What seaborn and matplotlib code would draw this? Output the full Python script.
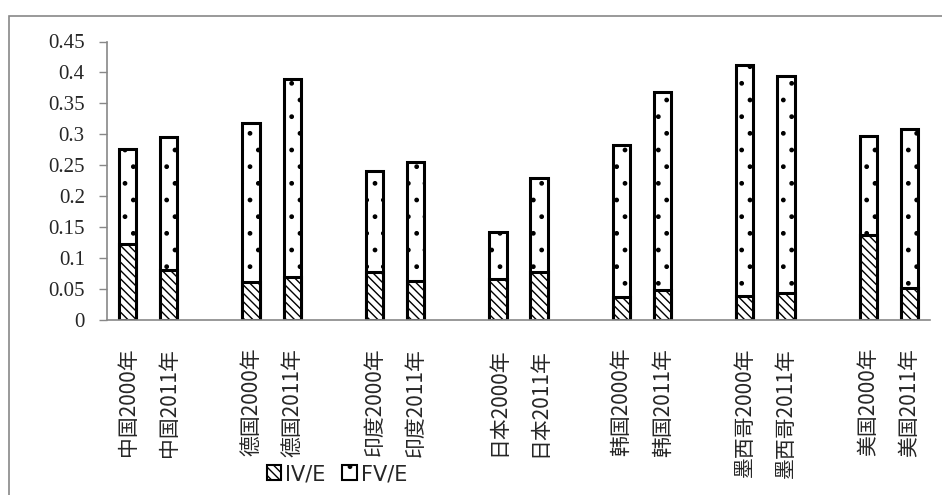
import matplotlib
matplotlib.use("Agg")
import matplotlib.pyplot as plt
import seaborn as sns
import pandas as pd
import numpy as np
from matplotlib.patches import Patch, Rectangle

# ---- data ----
countries = ["中国", "德国", "印度", "日本", "韩国", "墨西哥", "美国"]
years = ["2000年", "2011年"]
iv_e = [0.122, 0.081, 0.061, 0.069, 0.077, 0.063, 0.066, 0.077,
        0.037, 0.049, 0.039, 0.043, 0.138, 0.052]
total = [0.276, 0.295, 0.318, 0.390, 0.240, 0.255, 0.142, 0.229,
         0.283, 0.369, 0.412, 0.395, 0.298, 0.309]
fv_e = [round(t - i, 3) for t, i in zip(total, iv_e)]
yticks = [0, 0.05, 0.1, 0.15, 0.2, 0.25, 0.3, 0.35, 0.4, 0.45]
ytick_labels = ["0", "0.05", "0.1", "0.15", "0.2", "0.25", "0.3", "0.35", "0.4", "0.45"]

labels = [c + y for c in countries for y in years]
df = pd.DataFrame({"label": labels, "IV/E": iv_e, "FV/E": fv_e})
df["total"] = df["IV/E"] + df["FV/E"]

# order with blank slots between groups
order = []
for gi, c in enumerate(countries):
    for y in years:
        order.append(c + y)
    if gi < len(countries) - 1:
        order.append(" " * (gi + 1))

sns.set_theme(style="white")
plt.rcParams["font.family"] = ["Noto Sans CJK SC", "DejaVu Sans"]
plt.rcParams["hatch.linewidth"] = 1.0

fig = plt.figure(figsize=(9.42, 4.95), dpi=100)
ax = fig.add_axes([107 / 942, 1 - 320 / 495, (930 - 107) / 942, (320 - 41.5) / 495])

sns.barplot(data=df, x="label", y="total", order=order, ax=ax, width=0.42,
            color="white", edgecolor="black", linewidth=2.2, hatch=".",
            errorbar=None, saturation=1)
sns.barplot(data=df, x="label", y="IV/E", order=order, ax=ax, width=0.42,
            color="white", edgecolor="black", linewidth=2.2, hatch="\\\\\\\\",
            errorbar=None, saturation=1)

ax.set_xlim(-0.5, len(order) - 0.5)
ax.set_ylim(0, 0.45)
ax.set_yticks(yticks)
ax.set_yticklabels(ytick_labels, family=["Liberation Serif", "DejaVu Serif"], fontsize=15)
ax.set_xlabel("")
ax.set_ylabel("")

ax.set_xticks(range(len(order)))
ax.set_xticklabels([o if o.strip() else "" for o in order], rotation=90,
                   fontsize=15, va="top", ha="center")
ax.tick_params(axis="x", which="major", length=0, pad=20)
ax.set_xticks(np.arange(-0.5, len(order), 1.0), minor=True)
ax.tick_params(axis="x", which="minor", length=6, width=1, color="#888888", direction="out")
ax.tick_params(axis="y", length=6, width=1, color="#888888", direction="out", left=True, pad=10)

for s in ["top", "right"]:
    ax.spines[s].set_visible(False)
for s in ["left", "bottom"]:
    ax.spines[s].set_color("#888888")
    ax.spines[s].set_linewidth(1.2)

handles = [Patch(facecolor="white", edgecolor="black", hatch="\\\\\\\\", linewidth=1.5, label="IV/E"),
           Patch(facecolor="white", edgecolor="black", hatch=".", linewidth=1.5, label="FV/E")]
fig.legend(handles=handles, loc="center", bbox_to_anchor=(337 / 942, 1 - 474 / 495),
           ncol=2, frameon=False, handlelength=0.7, handleheight=0.7,
           handletextpad=0.2, columnspacing=0.8,
           prop={"family": ["Liberation Sans Narrow", "DejaVu Sans"], "size": 15})

# outer chart border (only left/top visible in the crop)
fig.patches.append(Rectangle((9 / 942, -0.1), 1.2, 1 - 16 / 495 + 0.1, transform=fig.transFigure,
                             fill=False, edgecolor="#888888", linewidth=1.2))

fig.savefig("out.png", dpi=100)
